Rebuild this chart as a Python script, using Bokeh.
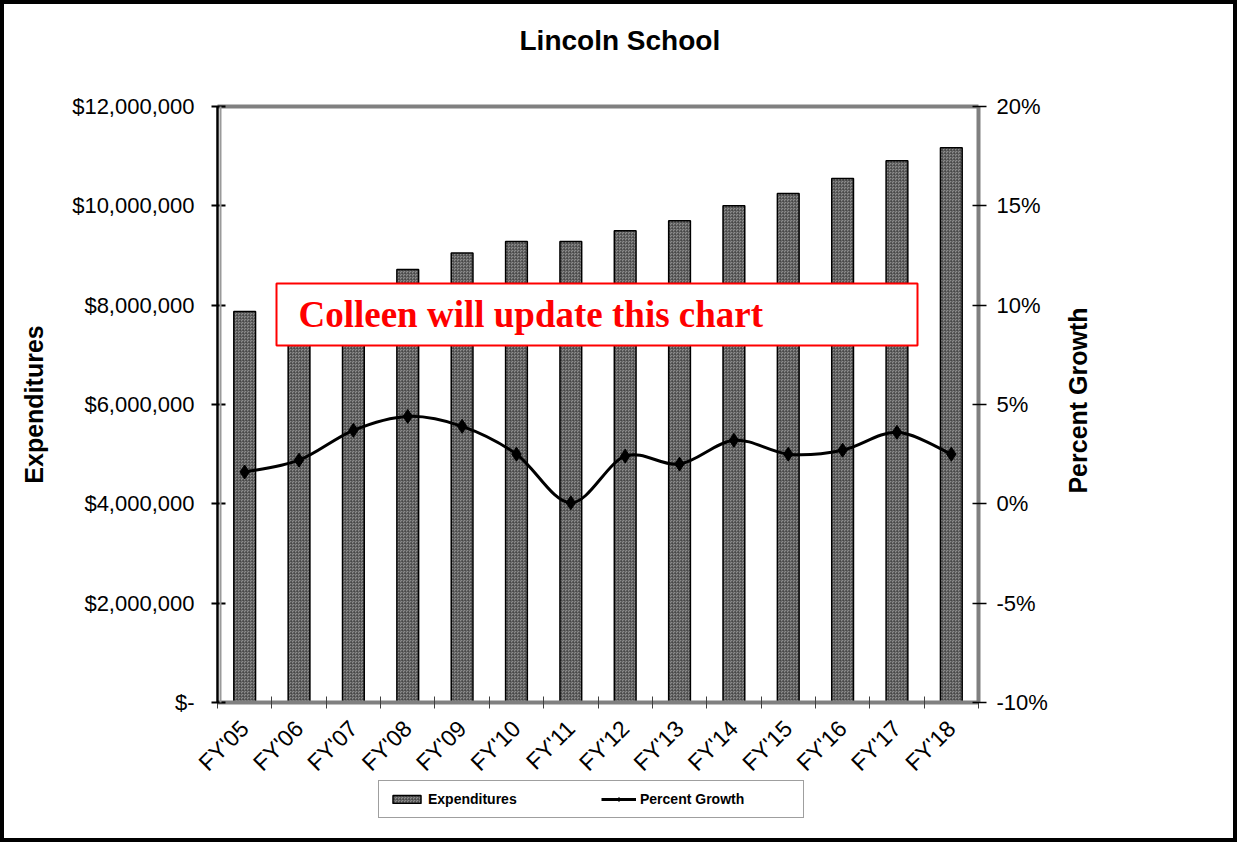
import numpy as np
from bokeh.plotting import figure
from bokeh.models import (Range1d, LinearAxis, FixedTicker, NumeralTickFormatter,
                          PrintfTickFormatter, BoxAnnotation, Label, Legend, LegendItem,
                          ColumnDataSource)
from bokeh.embed import file_html
from bokeh.resources import INLINE

years = ["FY'05", "FY'06", "FY'07", "FY'08", "FY'09", "FY'10", "FY'11",
         "FY'12", "FY'13", "FY'14", "FY'15", "FY'16", "FY'17", "FY'18"]
expenditures = [7870000, 8040000, 8340000, 8720000, 9050000, 9280000, 9280000,
                9500000, 9700000, 10000000, 10250000, 10550000, 10910000, 11170000]
growth = [1.6, 2.2, 3.7, 4.4, 3.9, 2.5, 0.05, 2.4, 2.0, 3.2, 2.5, 2.7, 3.6, 2.5]

left_ticks = [0, 2000000, 4000000, 6000000, 8000000, 10000000, 12000000]
right_ticks = [-10, -5, 0, 5, 10, 15, 20]

FONT = "Liberation Sans"
n = len(years)
xc = np.arange(n) + 0.5

# ---- layout in page pixels (canvas is offset by the 4px border) ----
W, H, B = 1237, 842, 4
AX_L, AX_R, AX_T, AX_0 = 217, 978, 106, 702      # plot-area box
FL, FR, FT, FB = B, W - B, 70, 838               # frame (drawing area)
L_MAX = left_ticks[-1]
R_MIN, R_MAX = right_ticks[0], right_ticks[-1]

def lin(px, p0, p1, v0, v1):
    return v0 + (px - p0) * (v1 - v0) / (p1 - p0)

x_lo, x_hi = lin(FL, AX_L, AX_R, 0, n), lin(FR, AX_L, AX_R, 0, n)
y_lo, y_hi = lin(FB, AX_0, AX_T, 0, L_MAX), lin(FT, AX_0, AX_T, 0, L_MAX)
r_lo, r_hi = lin(FB, AX_0, AX_T, R_MIN, R_MAX), lin(FT, AX_0, AX_T, R_MIN, R_MAX)

p = figure(width=W, height=H, output_backend="svg", toolbar_location=None,
           x_range=Range1d(x_lo, x_hi), y_range=Range1d(y_lo, y_hi),
           min_border_left=FL - B, min_border_right=W + B - FR,
           min_border_top=FT - B, min_border_bottom=H + B - FB,
           title="Lincoln School")
p.styles = {"border": "4px solid black"}
p.background_fill_color = "white"
p.border_fill_color = "white"
p.outline_line_color = None
p.xgrid.visible = False
p.ygrid.visible = False

p.title.align = "left"
p.title.offset = 515
p.title.standoff = 30
p.title.text_font = FONT
p.title.text_font_size = "28px"
p.title.text_font_style = "bold"
p.title.text_color = "black"

p.extra_y_ranges = {"pct": Range1d(r_lo, r_hi)}

xa = p.below[0]
ya = p.left[0]

# top edge of the plot area
top_line = LinearAxis(fixed_location=L_MAX, bounds=(0, n), ticker=FixedTicker(ticks=[]),
                      axis_line_color="#808080", axis_line_width=4,
                      major_tick_line_color=None, minor_tick_line_color=None,
                      major_label_text_font_size="0px")
p.add_layout(top_line, "above")

# grey shadow beside the left axis line
shadow = LinearAxis(fixed_location=lin(AX_L + 3, AX_L, AX_R, 0, n), bounds=(0, L_MAX),
                    ticker=FixedTicker(ticks=[]), axis_line_color="#9a9a9a",
                    axis_line_width=2, major_tick_line_color=None,
                    minor_tick_line_color=None, major_label_text_font_size="0px")
p.add_layout(shadow, "left")

# left axis
ya.fixed_location = 0
ya.bounds = (0, L_MAX)
ya.ticker = FixedTicker(ticks=left_ticks)
ya.formatter = NumeralTickFormatter(format="$0,0")
ya.major_label_overrides = {0: "$-"}
ya.major_label_text_font = FONT
ya.major_label_text_font_size = "22px"
ya.major_label_text_color = "black"
ya.major_label_standoff = 17
ya.axis_line_color = "black"
ya.axis_line_width = 2.5
ya.major_tick_in = 8
ya.major_tick_out = 6
ya.major_tick_line_width = 2
ya.major_tick_line_color = "black"
ya.minor_tick_line_color = None
ya.axis_label = "Expenditures"
ya.axis_label_text_font = FONT
ya.axis_label_text_font_size = "25px"
ya.axis_label_text_font_style = "bold"
ya.axis_label_text_color = "black"
ya.axis_label_standoff = 21

# right axis
ra = LinearAxis(y_range_name="pct", ticker=FixedTicker(ticks=right_ticks),
                formatter=PrintfTickFormatter(format="%d%%"), bounds=(R_MIN, R_MAX),
                fixed_location=n)
ra.major_label_text_font = FONT
ra.major_label_text_font_size = "22px"
ra.major_label_text_color = "black"
ra.major_label_standoff = 10
ra.axis_line_color = "#808080"
ra.axis_line_width = 4
ra.major_tick_in = 6
ra.major_tick_out = 8
ra.major_tick_line_width = 1.5
ra.major_tick_line_color = "black"
ra.minor_tick_line_color = None
p.add_layout(ra, "right")

# bottom axis
xa.fixed_location = 0
xa.bounds = (0, n)
xa.ticker = FixedTicker(ticks=list(xc), minor_ticks=list(range(n + 1)))
xa.major_label_overrides = {float(x): y for x, y in zip(xc, years)}
xa.major_label_orientation = np.pi / 4
xa.major_label_text_font = FONT
xa.major_label_text_font_size = "23px"
xa.major_label_text_color = "black"
xa.major_label_standoff = 16
xa.major_tick_in = 0
xa.major_tick_out = 0
xa.minor_tick_in = 6
xa.minor_tick_out = 6
xa.minor_tick_line_color = "#404040"
xa.minor_tick_line_width = 1
xa.axis_line_color = "#808080"
xa.axis_line_width = 4

src = ColumnDataSource(dict(x=xc, top=expenditures, g=growth))
bars = p.vbar(x="x", top="top", bottom=0, width=0.4, source=src, fill_color="#8c8c8c",
              line_color="black", line_width=1.5, hatch_pattern="criss_cross",
              hatch_color="#3c3c3c", hatch_scale=3, hatch_weight=0.8, hatch_alpha=0.6)

# smooth growth line (cubic Bezier through the data points)
xp = np.concatenate([[xc[0]], xc, [xc[-1]]])
gp = np.concatenate([[growth[0]], growth, [growth[-1]]])
bsrc = ColumnDataSource(dict(
    x0=xp[1:n], y0=gp[1:n], x1=xp[2:n + 1], y1=gp[2:n + 1],
    cx0=xp[1:n] + (xp[2:n + 1] - xp[0:n - 1]) / 6,
    cy0=gp[1:n] + (gp[2:n + 1] - gp[0:n - 1]) / 6,
    cx1=xp[2:n + 1] - (xp[3:n + 2] - xp[1:n]) / 6,
    cy1=gp[2:n + 1] - (gp[3:n + 2] - gp[1:n]) / 6))
bez = p.bezier(x0="x0", y0="y0", x1="x1", y1="y1", cx0="cx0", cy0="cy0",
               cx1="cx1", cy1="cy1", source=bsrc, y_range_name="pct",
               line_color="black", line_width=3)
pts = p.scatter(x="x", y="g", source=src, y_range_name="pct", marker="diamond",
                size=14, fill_color="black", line_color="black")

# notice box
box = BoxAnnotation(left=lin(276, AX_L, AX_R, 0, n), right=lin(917, AX_L, AX_R, 0, n),
                    bottom=lin(345, AX_0, AX_T, 0, L_MAX), top=lin(283, AX_0, AX_T, 0, L_MAX),
                    fill_color="white", fill_alpha=1.0, line_color="red",
                    line_width=2, line_alpha=1.0)
p.add_layout(box)
p.add_layout(Label(x=lin(298, AX_L, AX_R, 0, n), y=lin(314, AX_0, AX_T, 0, L_MAX),
                   text="Colleen will update this chart",
                   text_font="Liberation Serif", text_font_style="bold",
                   text_font_size="37px", text_color="red", text_baseline="middle"))

# right axis title, reading bottom-to-top
p.add_layout(Label(x=lin(1077, AX_L, AX_R, 0, n), y=lin(400, AX_0, AX_T, 0, L_MAX),
                   text="Percent Growth", angle=np.pi / 2,
                   text_align="center", text_baseline="middle", text_font=FONT,
                   text_font_size="25px", text_font_style="bold", text_color="black"))

legend = Legend(items=[LegendItem(label="Expenditures", renderers=[bars]),
                       LegendItem(label="Percent Growth", renderers=[bez, pts])],
                orientation="horizontal", location=(378 - FL, FB - 818))
legend.label_text_font = FONT
legend.label_text_font_size = "14px"
legend.label_text_font_style = "bold"
legend.label_text_color = "black"
legend.glyph_width = 35
legend.glyph_height = 10
legend.label_standoff = 4
legend.label_width = 153
legend.spacing = 20
legend.padding = 10
legend.border_line_color = "#404040"
legend.border_line_width = 1
legend.background_fill_color = "white"
legend.background_fill_alpha = 1.0
p.add_layout(legend, "center")

open("out.html", "w").write(file_html(p, INLINE))
